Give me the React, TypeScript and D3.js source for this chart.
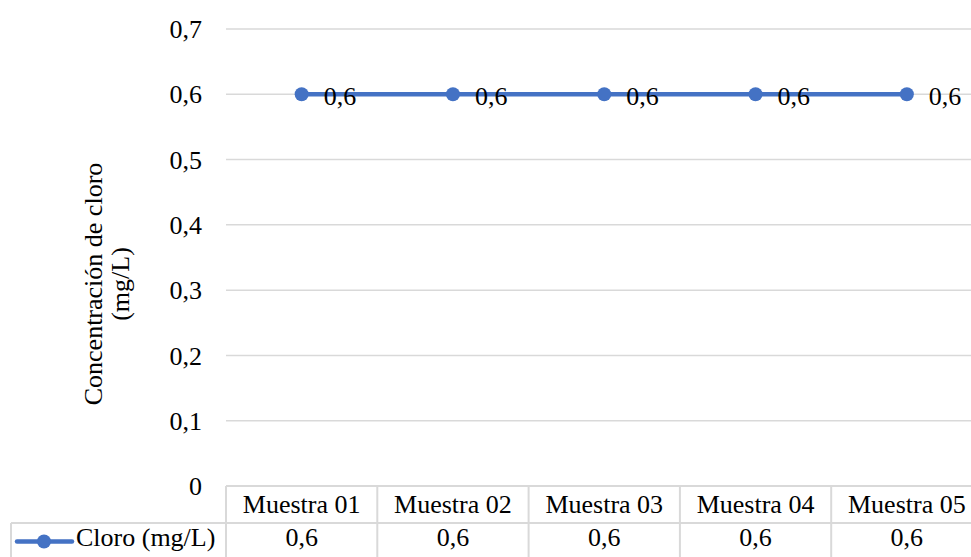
import React from "react";
import * as d3 from "d3";

const categories = ["Muestra 01", "Muestra 02", "Muestra 03", "Muestra 04", "Muestra 05"];
const cloroValues = [0.6, 0.6, 0.6, 0.6, 0.6];
const yTicks = [0, 0.1, 0.2, 0.3, 0.4, 0.5, 0.6, 0.7];
const seriesName = "Cloro (mg/L)";
const yTitleLines = ["Concentración de cloro", "(mg/L)"];

const W = 971;
const H = 557;
const FONT = "Liberation Serif, Tinos, Times New Roman, DejaVu Serif, serif";
const FS = 26;
const BLUE = "#4472C4";
const GRID = "#d9d9d9";

const fmt = (v: number) => (v === 0 ? "0" : v.toFixed(1).replace(".", ","));

export default function App() {
  const plotLeft = 226;
  const bandW = 151.3;
  const x = d3.scaleBand<string>().domain(categories).range([plotLeft, plotLeft + bandW * categories.length]);
  const y = d3.scaleLinear().domain([0, 0.7]).range([486, 29]);
  const cx = (c: string) => (x(c) as number) + x.bandwidth() / 2;
  const pts = categories.map((c, i) => ({ c, v: cloroValues[i] }));
  const line = d3.line<{ c: string; v: number }>().x((d) => cx(d.c)).y((d) => y(d.v));

  const tableTop = y(0);
  const rowH = 37;
  const row2 = tableTop + rowH;
  const row3 = row2 + rowH;
  const right = plotLeft + bandW * categories.length;
  const legendLeft = 11;
  const ts: React.CSSProperties = { fontFamily: FONT, fontSize: FS };

  return (
    <svg
      width={W}
      height={H}
      style={{ position: "absolute", left: 0, top: 0, background: "#fff", fontFamily: FONT }}
    >
      <rect x={0} y={0} width={W} height={H} fill="#fff" />
      {yTicks.filter((t) => t > 0).map((t) => (
        <line key={t} x1={plotLeft} x2={right} y1={y(t)} y2={y(t)} stroke={GRID} strokeWidth={1.5} />
      ))}
      {yTicks.map((t) => (
        <text key={t} x={202} y={y(t)} dy="0.35em" textAnchor="end" style={ts} fill="#000">
          {fmt(t)}
        </text>
      ))}
      <g transform={`translate(${102},${284}) rotate(-90)`}>
        {yTitleLines.map((s, i) => (
          <text key={i} x={0} y={i * 27} textAnchor="middle" style={ts} fill="#000">
            {s}
          </text>
        ))}
      </g>
      <g stroke={GRID} strokeWidth={2} fill="none">
        <line x1={plotLeft} x2={right} y1={tableTop} y2={tableTop} />
        <line x1={legendLeft} x2={right} y1={row2} y2={row2} />
        <line x1={legendLeft} x2={right} y1={row3} y2={row3} />
        <line x1={legendLeft} x2={legendLeft} y1={row2} y2={row3} />
        {categories.map((c) => (
          <line key={c} x1={x(c) as number} x2={x(c) as number} y1={tableTop} y2={row3} />
        ))}
        <line x1={right} x2={right} y1={tableTop} y2={row3} />
      </g>
      {categories.map((c, i) => (
        <g key={c}>
          <text x={cx(c)} y={tableTop + 27} textAnchor="middle" style={ts} fill="#000">
            {c}
          </text>
          <text x={cx(c)} y={row2 + 23} textAnchor="middle" style={ts} fill="#000">
            {fmt(cloroValues[i])}
          </text>
        </g>
      ))}
      <line x1={17} x2={72} y1={row2 + 18.5} y2={row2 + 18.5} stroke={BLUE} strokeWidth={4.5} strokeLinecap="round" />
      <circle cx={44} cy={row2 + 18.5} r={7} fill={BLUE} />
      <text x={76} y={row2 + 23} style={ts} fill="#000">
        {seriesName}
      </text>
      <path d={line(pts) || ""} fill="none" stroke={BLUE} strokeWidth={4.5} strokeLinecap="round" />
      {pts.map((p) => (
        <circle key={p.c} cx={cx(p.c)} cy={y(p.v)} r={7} fill={BLUE} />
      ))}
      {pts.map((p) => (
        <text key={"l" + p.c} x={cx(p.c) + 22} y={y(p.v) + 11} style={ts} fill="#000">
          {fmt(p.v)}
        </text>
      ))}
    </svg>
  );
}
